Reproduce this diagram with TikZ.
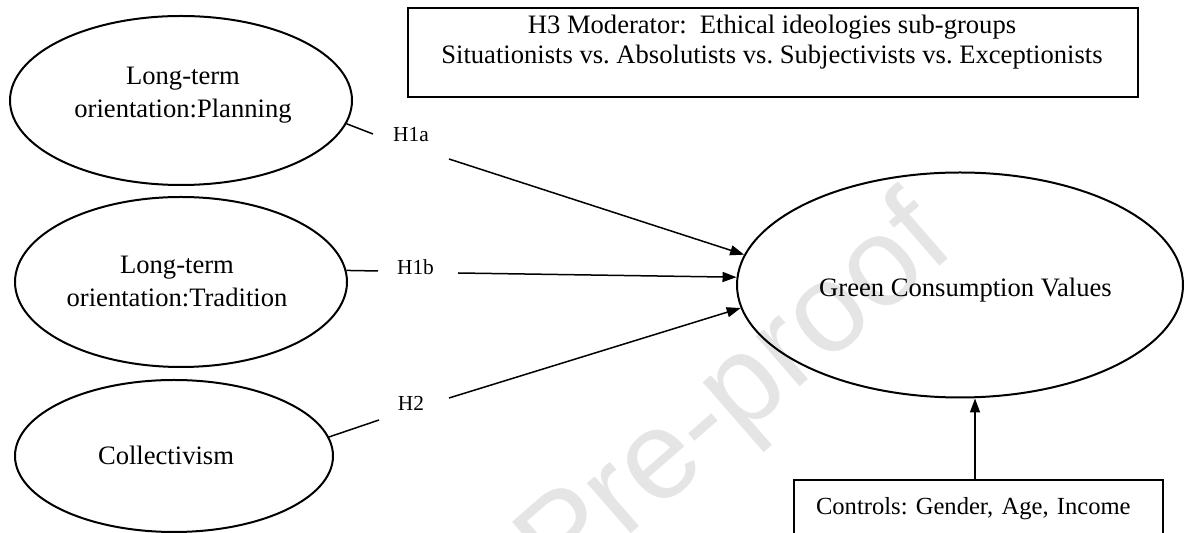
\documentclass[tikz,border=0pt]{standalone}
\usepackage{fontspec}
\setmainfont{Liberation Serif}
\newfontfamily\wmfont{Liberation Sans}
\usetikzlibrary{arrows.meta,shapes.geometric}
\frenchspacing
\begin{document}
\begin{tikzpicture}[x=0.5pt,y=-0.5pt,
  oval/.style={ellipse, draw, line width=1pt, inner sep=0pt},
  frame/.style={rectangle, draw, line width=1pt, inner sep=0pt},
  txt/.style={font=\fontsize{13.3}{16.5}\selectfont, inner sep=0pt, align=center},
  hyp/.style={font=\fontsize{10.7}{12}\selectfont, inner sep=0pt},
  link/.style={line width=0.75pt},
  arr/.style={line width=0.75pt, -{Triangle[length=7pt,width=5pt]}},
  wm/.style={font=\wmfont\fontsize{63}{65}\selectfont, text=black!10, inner sep=0pt, rotate=41}]
\useasboundingbox (0,0) rectangle (1185,533);
\clip (0,0) rectangle (1185,533);
% watermark
\node[wm] (watermark) at (738,398) {Pre-proof};
% left constructs
\node[oval, minimum width=171pt, minimum height=84.5pt] (p1) at (181,100.5) {};
\node[txt, anchor=north] (p1t) at (183,66.4) {Long-term\\orientation:Planning};
\node[oval, minimum width=166pt, minimum height=85pt] (p2) at (181,282) {};
\node[txt, anchor=north] (p2t) at (177,255.4) {Long-term\\orientation:Tradition};
\node[oval, minimum width=159pt, minimum height=76pt] (p3) at (174,456) {};
\node[txt, anchor=base] (p3t) at (166,465) {Collectivism};
% outcome
\node[oval, minimum width=223pt, minimum height=112.5pt] (gcv) at (960,285) {};
\node[txt, anchor=base] (gcvt) at (965.5,297) {Green Consumption Values};
% moderator box
\node[frame, minimum width=365pt, minimum height=44.5pt] (mod) at (773,52.5) {};
\node[txt, anchor=north, font=\fontsize{13.3}{15}\selectfont] (modt) at (772,15.1)
  {H3 Moderator:\ \ Ethical ideologies sub-groups\\Situationists vs. Absolutists vs. Subjectivists vs. Exceptionists};
% controls box
\node[frame, anchor=north west, inner xsep=11pt, inner ysep=8.5pt, text width=162.5pt,
      align=left, font=\fontsize{12.3}{14}\selectfont, text depth=8pt] (ctrl) at (793,479)
  {Controls: Gender, Age, Income};
% hypothesis labels
\node[hyp, anchor=base] (h1a) at (411,142) {H1a};
\node[hyp, anchor=base] (h1b) at (415.5,275) {H1b};
\node[hyp, anchor=base] (h2) at (411,411) {H2};
\coordinate (a1) at (373,134); \coordinate (b1) at (449,159);
\coordinate (a2) at (378,271); \coordinate (b2) at (458,273);
\coordinate (a3) at (379,420); \coordinate (b3) at (449,398);
% connectors
\draw[link] (p1.-8) -- (a1);
\draw[arr] (b1) -- (gcv.172);
\draw[link] (p2.4) -- (a2);
\draw[arr] (b2) -- (gcv.178);
\draw[link] (p3.7) -- (a3);
\draw[arr] (b3) -- (gcv.186);
\draw[arr] ([xshift=-1.75pt]ctrl.north) -- ([xshift=-1.75pt]ctrl.north |- gcv.south);
\end{tikzpicture}
\end{document}
